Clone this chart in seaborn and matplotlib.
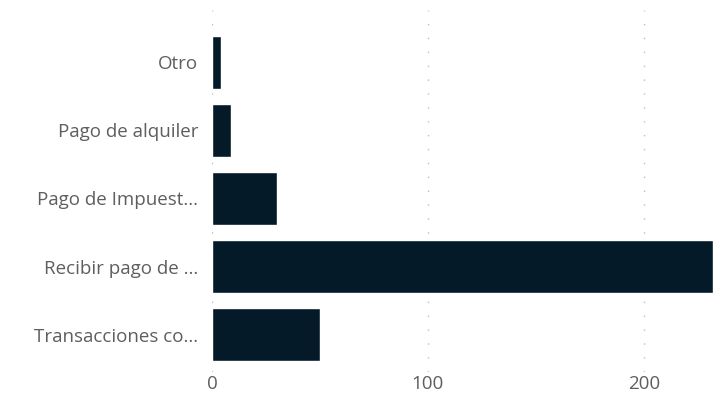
import matplotlib
matplotlib.use("Agg")
import matplotlib.pyplot as plt
import seaborn as sns
import pandas as pd

categories = ["Otro", "Pago de alquiler", "Pago de Impuest...", "Recibir pago de ...", "Transacciones co..."]
values = [4, 9, 30, 232, 50]
xticks = [0, 100, 200]

sns.set_theme(style="white")
plt.rcParams['font.family'] = ['Open Sans', 'DejaVu Sans']

df = pd.DataFrame({"cat": categories, "val": values})

fig = plt.figure(figsize=(7.15, 4.16), dpi=100)
ax = fig.add_axes([212/715, (416-372)/416, 1 - 212/715, (372-10)/416])

sns.barplot(data=df, x="val", y="cat", orient="h", color="#041A29",
            width=0.78, saturation=1, ax=ax, zorder=3)

ax.set_xlim(0, 233)
ax.set_ylim(4.55, -0.77)
ax.set_xticks(xticks)
ax.set_xticklabels([str(t) for t in xticks])
ax.xaxis.grid(True, linestyle=(0, (1, 9)), color="#BDBDBD", linewidth=1, zorder=0)
ax.yaxis.grid(False)
for s in ax.spines.values():
    s.set_visible(False)
ax.set_xlabel("")
ax.set_ylabel("")
ax.tick_params(axis="both", length=0, colors="#605E5C", labelsize=13.5)
ax.tick_params(axis="x", pad=2)
ax.tick_params(axis="y", pad=10)

fig.savefig("out.png", dpi=100)
